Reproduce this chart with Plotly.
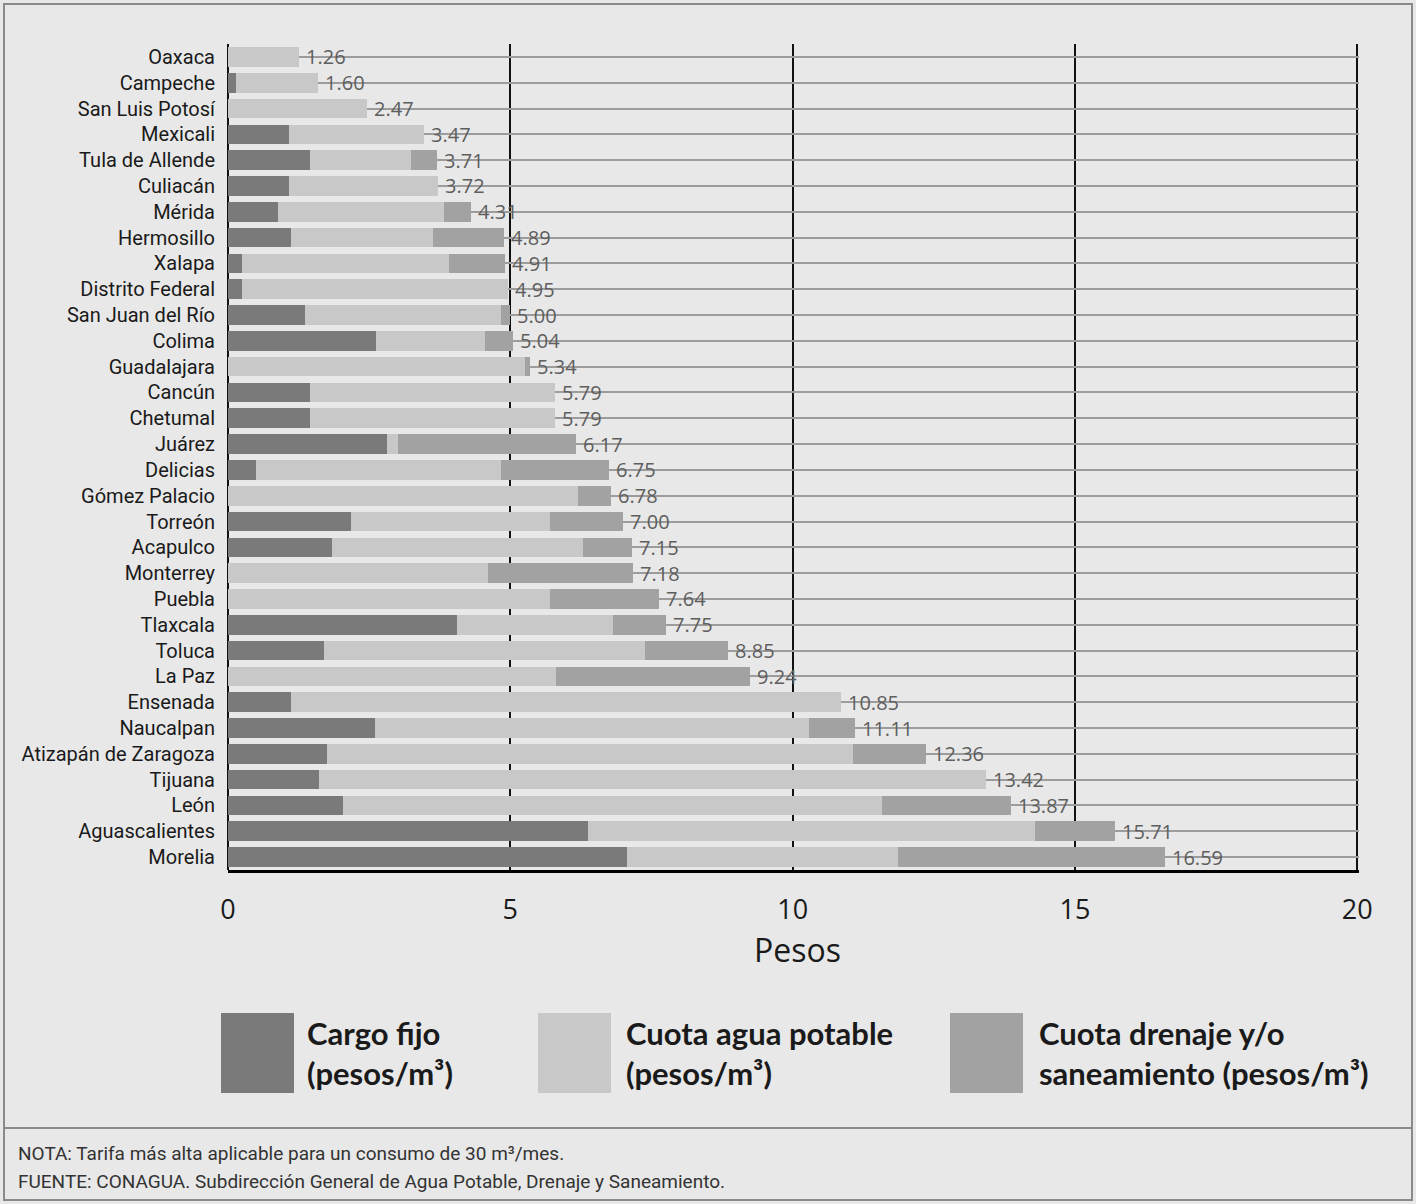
import plotly.graph_objects as go

cities = ["Oaxaca", "Campeche", "San Luis Potosí", "Mexicali", "Tula de Allende", "Culiacán",
          "Mérida", "Hermosillo", "Xalapa", "Distrito Federal", "San Juan del Río", "Colima",
          "Guadalajara", "Cancún", "Chetumal", "Juárez", "Delicias", "Gómez Palacio", "Torreón",
          "Acapulco", "Monterrey", "Puebla", "Tlaxcala", "Toluca", "La Paz", "Ensenada",
          "Naucalpan", "Atizapán de Zaragoza", "Tijuana", "León", "Aguascalientes", "Morelia"]

cargo_fijo = [0, 0.15, 0, 1.08, 1.46, 1.08, 0.88, 1.12, 0.25, 0.25, 1.37, 2.62,
              0, 1.46, 1.46, 2.81, 0.50, 0, 2.18, 1.85, 0, 0, 4.06, 1.70,
              0, 1.12, 2.61, 1.76, 1.61, 2.04, 6.38, 7.06]
agua_potable = [1.26, 1.45, 2.47, 2.39, 1.78, 2.64, 2.95, 2.51, 3.67, 4.70, 3.47, 1.93,
                5.26, 4.33, 4.33, 0.20, 4.34, 6.19, 3.52, 4.44, 4.60, 5.70, 2.75, 5.69,
                5.80, 9.73, 7.68, 9.30, 11.81, 9.54, 7.91, 4.81]
drenaje = [0, 0, 0, 0, 0.47, 0, 0.48, 1.26, 0.99, 0, 0.16, 0.49,
           0.08, 0, 0, 3.16, 1.91, 0.59, 1.30, 0.86, 2.58, 1.94, 0.94, 1.46,
           3.44, 0, 0.82, 1.30, 0, 2.29, 1.42, 4.72]
totals = [1.26, 1.60, 2.47, 3.47, 3.71, 3.72, 4.31, 4.89, 4.91, 4.95, 5.00, 5.04,
          5.34, 5.79, 5.79, 6.17, 6.75, 6.78, 7.00, 7.15, 7.18, 7.64, 7.75, 8.85,
          9.24, 10.85, 11.11, 12.36, 13.42, 13.87, 15.71, 16.59]
x_ticks = [0, 5, 10, 15, 20]

series_names = ["Cargo fijo<br>(pesos/m³)", "Cuota agua potable<br>(pesos/m³)",
                "Cuota drenaje y/o<br>saneamiento (pesos/m³)"]
colors = ["#7a7a7a", "#c8c8c8", "#a2a2a2"]

NARROW = "Roboto, sans-serif"
REG = "Open Sans, Noto Sans, sans-serif"

fig = go.Figure()
for vals, name, col in zip([cargo_fijo, agua_potable, drenaje], series_names, colors):
    fig.add_trace(go.Bar(y=cities, x=vals, orientation="h", name=name,
                         marker=dict(color=col, line=dict(width=0)), width=0.76,
                         showlegend=False, hoverinfo="x+y"))

# plot area in pixels: x 228..1359, y 44..870
L, R, T, B = 228, 1359, 44, 870
W, H = 1416, 1204
def PX(px):
    return (px - L) / (R - L)
def PY(py):
    return (B - py) / (B - T)

annotations = []
for c, t in zip(cities, totals):
    annotations.append(dict(x=t, y=c, xref="x", yref="y", xanchor="left", yanchor="middle",
                            xshift=5, text=f"{t:.2f}", showarrow=False,
                            font=dict(family=REG, size=20, color="#5e5e5e")))

shapes = []
# outer frame
shapes.append(dict(type="rect", xref="paper", yref="paper", x0=PX(4), x1=PX(1412), y0=PY(4), y1=PY(1200),
                   line=dict(color="#8a8a8a", width=2), fillcolor="rgba(0,0,0,0)", layer="above"))
shapes.append(dict(type="line", xref="paper", yref="paper", x0=PX(4), x1=PX(1412), y0=PY(1128), y1=PY(1128),
                   line=dict(color="#8a8a8a", width=2), layer="above"))
# legend swatches
sw_x = [221, 538, 950]
txt_x = [305, 624, 1037]
for sx, tx, col, name in zip(sw_x, txt_x, colors, series_names):
    shapes.append(dict(type="rect", xref="paper", yref="paper", x0=PX(sx), x1=PX(sx + 73),
                       y0=PY(1093), y1=PY(1013), fillcolor=col, line=dict(width=0), layer="above"))
    annotations.append(dict(xref="paper", yref="paper", x=PX(tx), y=PY(1012), xanchor="left", yanchor="top",
                            text=name, showarrow=False, align="left",
                            font=dict(family="Lato, Open Sans, sans-serif", size=31, color="#1a1a1a",
                                      weight="bold")))

annotations.append(dict(xref="paper", yref="paper", x=PX(797), y=PY(950), xanchor="center", yanchor="middle",
                        text="Pesos", showarrow=False,
                        font=dict(family=REG, size=32, color="#1a1a1a")))
annotations.append(dict(xref="paper", yref="paper", x=PX(16), y=PY(1153), xanchor="left", yanchor="middle",
                        text="NOTA: Tarifa más alta aplicable para un consumo de 30 m³/mes.", showarrow=False,
                        font=dict(family=NARROW, size=19, color="#333333")))
annotations.append(dict(xref="paper", yref="paper", x=PX(16), y=PY(1181), xanchor="left", yanchor="middle",
                        text="FUENTE: CONAGUA. Subdirección General de Agua Potable, Drenaje y Saneamiento.",
                        showarrow=False, font=dict(family=NARROW, size=19, color="#333333")))

fig.update_layout(
    width=W, height=H, barmode="stack",
    margin=dict(l=L, r=W - R, t=T, b=H - B, pad=0),
    paper_bgcolor="#e8e8e8", plot_bgcolor="#e8e8e8",
    shapes=shapes, annotations=annotations, showlegend=False,
    xaxis=dict(range=[0, 20.03], tickvals=x_ticks, ticktext=[str(v) for v in x_ticks],
               showgrid=True, gridcolor="#111111", gridwidth=1.5,
               zeroline=True, zerolinecolor="#111111", zerolinewidth=1.5,
               showline=True, linecolor="#000000", linewidth=3,
               ticks="", ticklabelstandoff=14,
               tickfont=dict(family=REG, size=27, color="#1a1a1a")),
    yaxis=dict(type="category", categoryorder="array", categoryarray=cities,
               range=[len(cities) - 0.5, -0.5],
               showgrid=True, gridcolor="#9c9c9c", gridwidth=2,
               showline=False, ticks="", ticklabelstandoff=12,
               tickfont=dict(family=NARROW, size=20, color="#1a1a1a")),
)

fig.write_html("out.html", config={"displayModeBar": False},
               post_script="document.body.style.margin='0';document.body.style.overflow='hidden';")
